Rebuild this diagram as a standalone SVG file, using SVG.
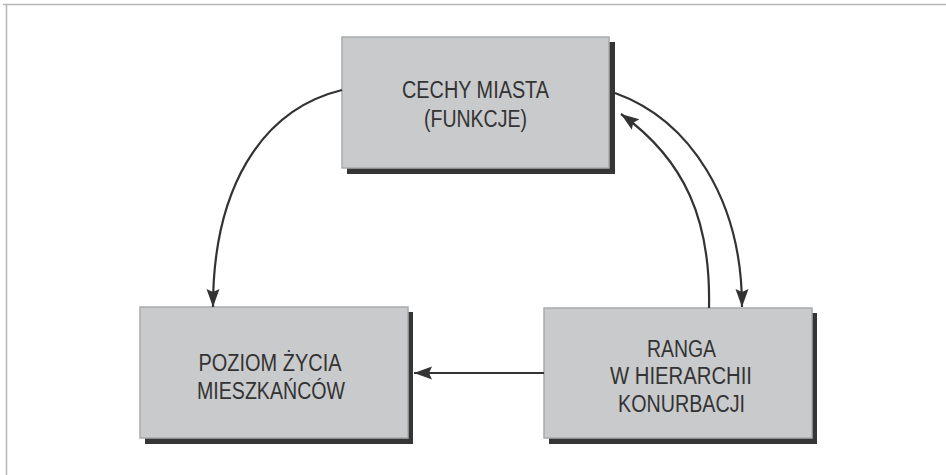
<svg xmlns="http://www.w3.org/2000/svg" width="946" height="475" viewBox="0 0 946 475">
<style>
.shadow{fill:#353535}
.box{fill:#c9cacc;stroke:#a9aaac;stroke-width:1.5}
.lbl{font-family:"Liberation Sans",Arial,sans-serif;font-size:23px;fill:#333;text-anchor:middle}
.conn{fill:none;stroke:#333;stroke-width:2.2}
.frame{stroke:#b5b5b5;stroke-width:1.5;fill:none}
</style>
<defs>
<marker id="ah" markerUnits="userSpaceOnUse" markerWidth="20" markerHeight="14" refX="18" refY="6.5" orient="auto">
<path d="M0,0 L18,6.5 L0,13 L3,6.5 Z" fill="#333"/>
</marker>
</defs>
<path class="frame" d="M3,4.5 H946 M6.5,4 V475"/>
<g id="cechy">
<rect class="shadow" x="347" y="42" width="268" height="132"/>
<rect class="box" x="342" y="37" width="267" height="131"/>
<text class="lbl" x="475.5" y="98" textLength="147" lengthAdjust="spacingAndGlyphs">CECHY MIASTA</text>
<text class="lbl" x="475.5" y="127" textLength="103" lengthAdjust="spacingAndGlyphs">(FUNKCJE)</text>
</g>
<g id="poziom">
<rect class="shadow" x="145" y="312" width="268" height="132"/>
<rect class="box" x="140" y="307" width="268" height="131"/>
<text class="lbl" x="270" y="371" textLength="143" lengthAdjust="spacingAndGlyphs">POZIOM ŻYCIA</text>
<text class="lbl" x="271" y="399" textLength="148" lengthAdjust="spacingAndGlyphs">MIESZKAŃCÓW</text>
</g>
<g id="ranga">
<rect class="shadow" x="549" y="313" width="268" height="131"/>
<rect class="box" x="544" y="308" width="268" height="130"/>
<text class="lbl" x="681.5" y="357" textLength="69" lengthAdjust="spacingAndGlyphs">RANGA</text>
<text class="lbl" x="681" y="384" textLength="142" lengthAdjust="spacingAndGlyphs">W HIERARCHII</text>
<text class="lbl" x="681.5" y="412" textLength="127" lengthAdjust="spacingAndGlyphs">KONURBACJI</text>
</g>
<g id="connectors">
<path class="conn" d="M342,90 C260,110 213,190 213,307" marker-end="url(#ah)"/>
<path class="conn" d="M615,93 C690,120 742,200 742,307" marker-end="url(#ah)"/>
<path class="conn" d="M709,308 C711,220 685,160 621,114" marker-end="url(#ah)"/>
<path class="conn" d="M544,373 H414" marker-end="url(#ah)"/>
</g>
</svg>
